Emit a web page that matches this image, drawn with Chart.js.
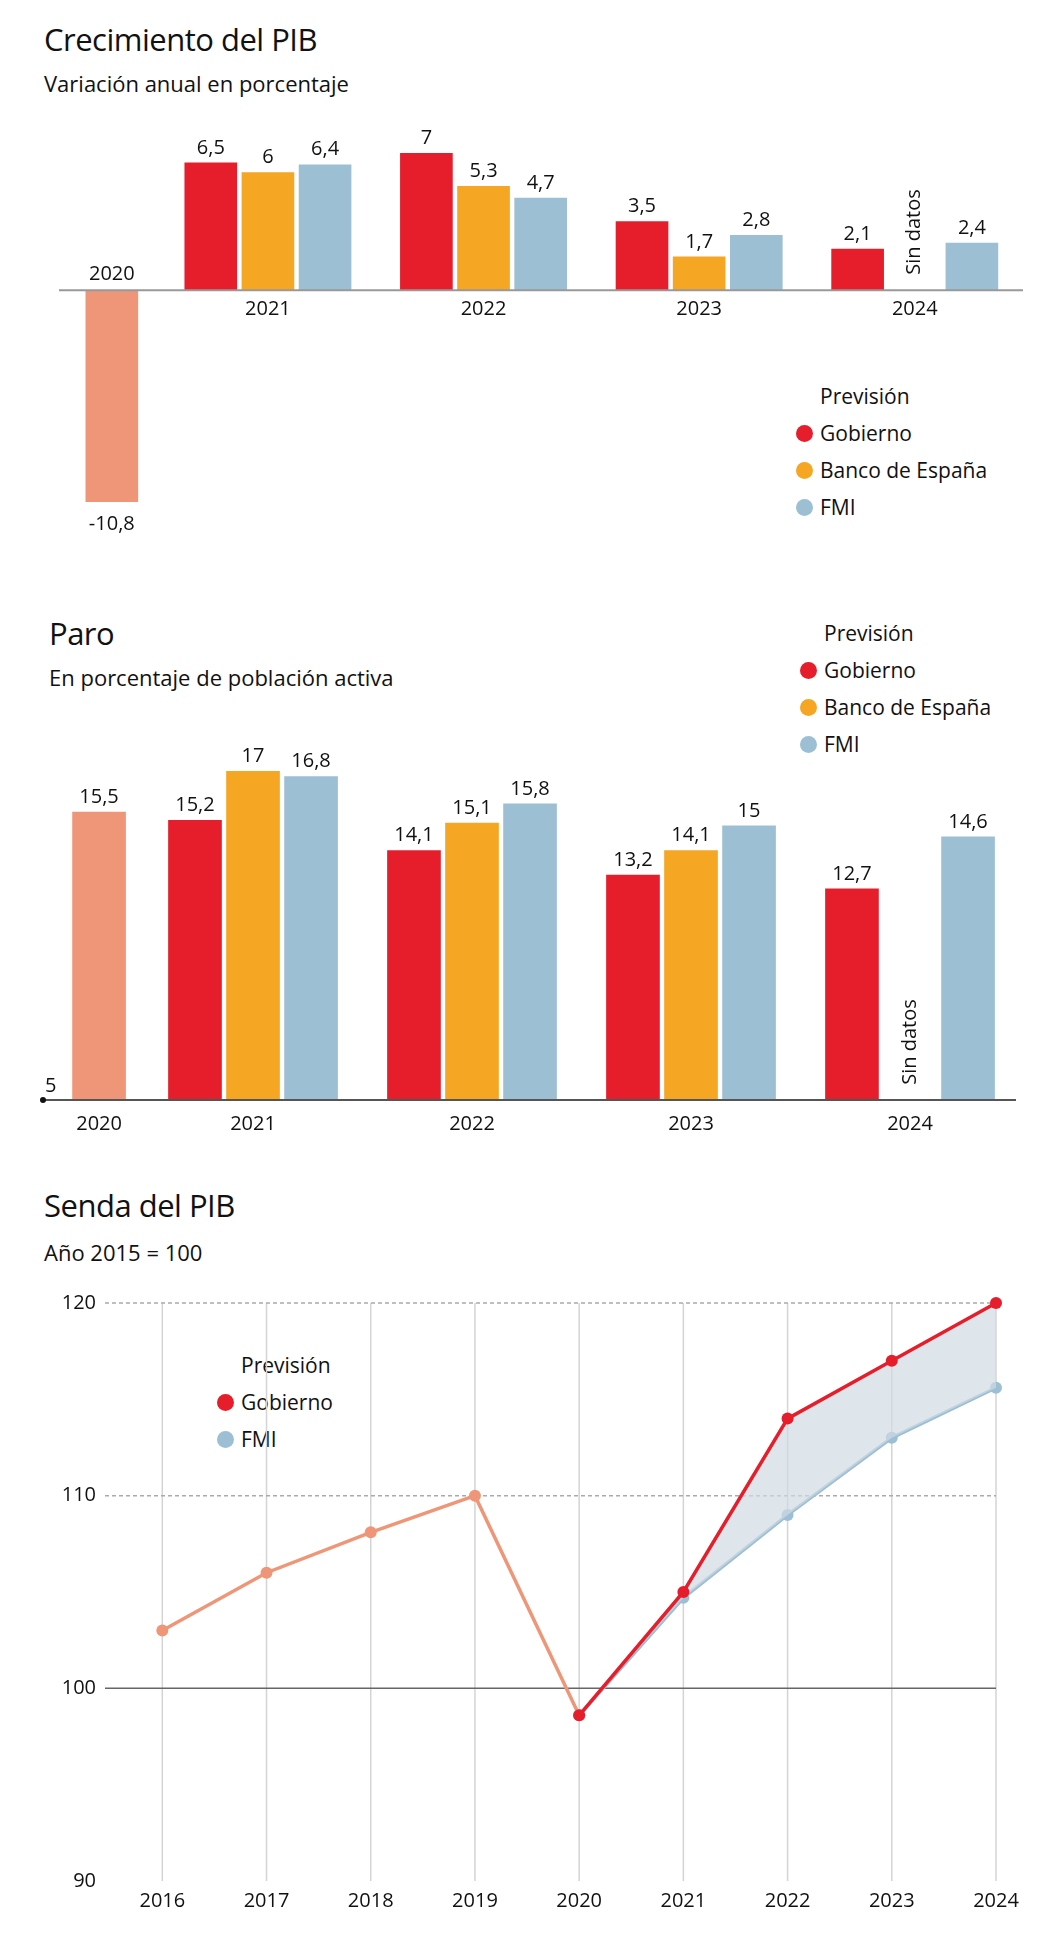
<!DOCTYPE html>
<html><head><meta charset="utf-8">
<script src="https://cdn.jsdelivr.net/npm/chart.js@4"></script>
<style>
body{margin:0;width:1063px;height:1959px;background:#fff;position:relative;font-family:"Open Sans",sans-serif;color:#111;overflow:hidden}
canvas{position:absolute;left:0}
.t{position:absolute;font-size:31px;letter-spacing:-0.5px}
.s{position:absolute;font-size:22px}
.lg{position:absolute;font-size:21px;line-height:37px}
.lg div{position:relative;padding-left:0}
.lg span{position:absolute;left:-24px;top:10px;width:17px;height:17px;border-radius:50%}
</style></head><body>
<div class="t" style="left:44px;top:18px">Crecimiento del PIB</div>
<div class="s" style="left:44px;top:68px">Variación anual en porcentaje</div>
<div class="lg" style="left:820px;top:378px"><div>Previsión</div><div><span style="background:#e61e2b"></span>Gobierno</div><div><span style="background:#f5a623"></span>Banco de España</div><div><span style="background:#9dbfd4"></span>FMI</div></div>
<div class="t" style="left:49px;top:612px">Paro</div>
<div class="s" style="left:49px;top:662px">En porcentaje de población activa</div>
<div class="lg" style="left:824px;top:615px"><div>Previsión</div><div><span style="background:#e61e2b"></span>Gobierno</div><div><span style="background:#f5a623"></span>Banco de España</div><div><span style="background:#9dbfd4"></span>FMI</div></div>
<div class="t" style="left:44px;top:1184px">Senda del PIB</div>
<div class="s" style="left:44px;top:1237px">Año 2015 = 100</div>
<div class="lg" style="left:241px;top:1347px"><div>Previsión</div><div><span style="background:#e61e2b"></span>Gobierno</div><div><span style="background:#9dbfd4"></span>FMI</div></div>
<canvas id="c1" width="1063" height="580" style="top:0"></canvas>
<canvas id="c2" width="1063" height="600" style="top:580px"></canvas>
<canvas id="c3" width="1063" height="779" style="top:1180px"></canvas>
<script>
// ---- data ----
const forecastYears = [2021, 2022, 2023, 2024];
const pib2020 = -10.8;
const pibGobierno = [6.5, 7, 3.5, 2.1];
const pibBanco = [6, 5.3, 1.7, null];
const pibFMI = [6.4, 4.7, 2.8, 2.4];
const paro2020 = 15.5;
const paroGobierno = [15.2, 14.1, 13.2, 12.7];
const paroBanco = [17, 15.1, 14.1, null];
const paroFMI = [16.8, 15.8, 15, 14.6];
const sendaYears = [2016, 2017, 2018, 2019, 2020, 2021, 2022, 2023, 2024];
const sendaHist = [103, 106, 108.1, 110, 98.6, null, null, null, null];
const sendaGobierno = [null, null, null, null, 98.6, 105, 114, 117, 120];
const sendaFMI = [null, null, null, null, 98.6, 104.7, 109, 113, 115.6];
const sendaTicks = [90, 100, 110, 120];

const RED='#e61e2b', ORA='#f5a623', BLU='#9dbfd4', SAL='#ef9678';
const FONT='"Open Sans", sans-serif';
Chart.defaults.animation=false;
Chart.defaults.font.family=FONT;
const fmt=v=>String(v).replace('.',',');

function barChart(id, y2020, series, slot2020, yMin, yMax, pad, pitch, thick, opts){
  const cols=[RED,ORA,BLU];
  const ds=[{data:[{x:slot2020,y:y2020}],backgroundColor:SAL,base:opts.base}];
  series.forEach((s,i)=>ds.push({data:forecastYears.map((yr,j)=>({x:yr+(i-1)*pitch,y:s[j]})),backgroundColor:cols[i],base:opts.base}));
  ds.forEach(d=>{d.barThickness=thick;d.grouped=false;});
  new Chart(document.getElementById(id),{type:'bar',data:{datasets:ds},
    options:{responsive:false,layout:{padding:pad},plugins:{legend:{display:false},tooltip:{enabled:false}},
      scales:{x:{type:'linear',offset:false,min:opts.xMin,max:opts.xMax,display:false},y:{min:yMin,max:yMax,display:false}}},
    plugins:[{id:'lab',afterDatasetsDraw(c){
      const ctx=c.ctx, xs=c.scales.x, ys=c.scales.y;
      ctx.save();ctx.fillStyle='#111';ctx.textAlign='center';ctx.font='20px '+FONT;
      c.data.datasets.forEach((d,di)=>{const m=c.getDatasetMeta(di);
        m.data.forEach((el,k)=>{const v=d.data[k].y;if(v==null)return;
          if(v<0){ctx.textBaseline='top';ctx.fillText(fmt(v),el.x,el.y+12);}
          else{ctx.textBaseline='bottom';ctx.fillText(fmt(v),el.x,el.y-5);}
        });});
      const by=ys.getPixelForValue(opts.base);
      ctx.strokeStyle=opts.axisColor;ctx.lineWidth=2;ctx.beginPath();ctx.moveTo(c.chartArea.left,by);ctx.lineTo(c.chartArea.right,by);ctx.stroke();
      ctx.textBaseline='top';
      forecastYears.forEach(yr=>ctx.fillText(String(yr),xs.getPixelForValue(yr),by+opts.yearGap));
      if(opts.year2020Above){ctx.textBaseline='bottom';ctx.fillText('2020',xs.getPixelForValue(slot2020),by-6);}
      else ctx.fillText('2020',xs.getPixelForValue(slot2020),by+opts.yearGap);
      opts.extra&&opts.extra(c,ctx,by);
      ctx.save();ctx.translate(xs.getPixelForValue(2024),opts.sinY);ctx.rotate(-Math.PI/2);
      ctx.textAlign='center';ctx.textBaseline='middle';ctx.fillText('Sin datos',0,0);ctx.restore();
      ctx.restore();
    }}]});
}

barChart('c1',pib2020,[pibGobierno,pibBanco,pibFMI],2020.276,-10.8,7,{left:59,right:40,top:153,bottom:78},0.265,52,
  {base:0,xMin:2020.031,xMax:2024.502,axisColor:'#999',yearGap:9,year2020Above:true,sinY:232});

barChart('c2',paro2020,[paroGobierno,paroBanco,paroFMI],2020.297,5,17,{left:43,right:47,top:191,bottom:80},0.265,53,
  {base:5,xMin:2020.041,xMax:2024.484,axisColor:'#555',yearGap:14,year2020Above:false,sinY:462,
   extra:(c,ctx,by)=>{ctx.textAlign='left';ctx.textBaseline='bottom';ctx.fillText('5',c.chartArea.left+2,by-4);
     ctx.beginPath();ctx.arc(c.chartArea.left,by,3,0,7);ctx.fill();ctx.textAlign='center';ctx.textBaseline='top';}});

new Chart(document.getElementById('c3'),{type:'line',
  data:{labels:sendaYears,datasets:[
    {data:sendaGobierno,borderColor:RED,backgroundColor:'rgba(208,218,226,0.7)',pointBackgroundColor:RED,fill:'+1'},
    {data:sendaFMI,borderColor:BLU,pointBackgroundColor:BLU,fill:false},
    {data:sendaHist,borderColor:SAL,pointBackgroundColor:SAL,fill:false}
  ].map(d=>Object.assign(d,{borderWidth:3.5,pointRadius:6,pointBorderWidth:0,tension:0,spanGaps:false,clip:false}))
   .map((d,i)=>Object.assign(d,{data:d.data.map((v,j)=>({x:sendaYears[j],y:v}))}))},
  options:{responsive:false,layout:{padding:{left:105,right:67,top:123,bottom:78}},
    plugins:{legend:{display:false},tooltip:{enabled:false}},
    scales:{x:{type:'linear',min:2015.45,max:2024,display:false},y:{min:90,max:120,display:false}}},
  plugins:[{id:'grid',beforeDatasetsDraw(c){
    const ctx=c.ctx,xs=c.scales.x,ys=c.scales.y,a=c.chartArea;ctx.save();
    ctx.strokeStyle='#d4d4d4';ctx.lineWidth=1.5;
    sendaYears.forEach(yr=>{const x=xs.getPixelForValue(yr);ctx.beginPath();ctx.moveTo(x,a.top);ctx.lineTo(x,a.bottom);ctx.stroke();});
    sendaTicks.forEach(t=>{if(t===90)return;const y=ys.getPixelForValue(t);ctx.beginPath();
      if(t===100){ctx.setLineDash([]);ctx.strokeStyle='#666';}else{ctx.setLineDash([4,3]);ctx.strokeStyle='#aaa';}
      ctx.moveTo(a.left,y);ctx.lineTo(a.right,y);ctx.stroke();});
    ctx.setLineDash([]);ctx.fillStyle='#111';ctx.font='20px '+FONT;ctx.textAlign='right';ctx.textBaseline='middle';
    sendaTicks.forEach(t=>ctx.fillText(String(t),96,ys.getPixelForValue(t)));
    ctx.textAlign='center';ctx.textBaseline='top';
    sendaYears.forEach(yr=>ctx.fillText(String(yr),xs.getPixelForValue(yr),a.bottom+10));
    ctx.restore();}}]});
</script></body></html>
